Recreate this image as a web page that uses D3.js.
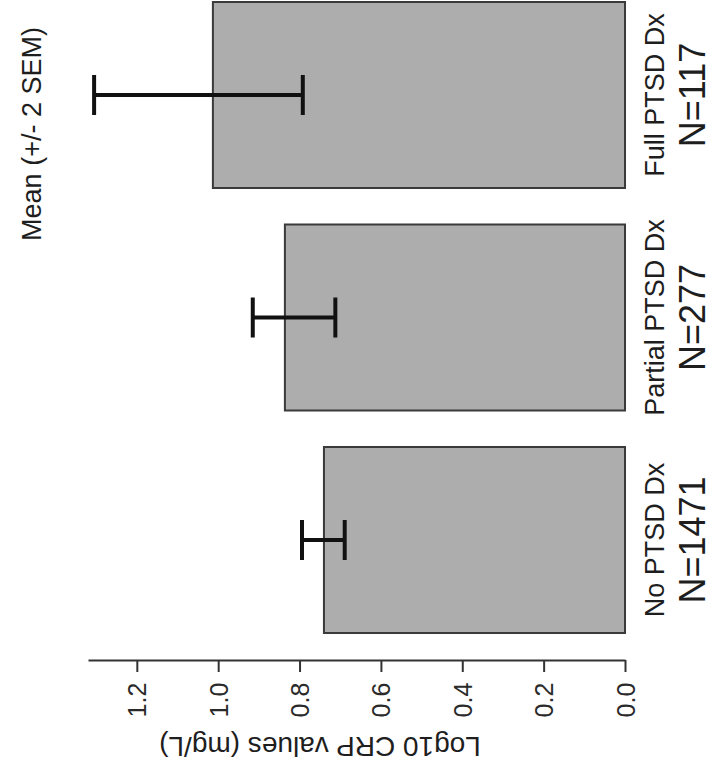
<!DOCTYPE html>
<html><head><meta charset="utf-8">
<script src="https://cdn.jsdelivr.net/npm/d3@7/dist/d3.min.js"></script>
<style>
html,body{margin:0;padding:0;background:#fff;}
text{font-family:"Liberation Sans",Arial,sans-serif;fill:#1e1e1e;}
</style></head>
<body>
<svg id="chart" width="713" height="774"></svg>
<script>
// ---- data ----
const categories = ["No PTSD Dx", "Partial PTSD Dx", "Full PTSD Dx"];
const nLabels = ["N=1471", "N=277", "N=117"];
const means = [0.740, 0.836, 1.013];
const lowerErr = [0.689, 0.712, 0.792];
const upperErr = [0.794, 0.915, 1.305];
const tickValues = [0, 0.2, 0.4, 0.6, 0.8, 1.0, 1.2];
const tickLabels = ["0.0", "0.2", "0.4", "0.6", "0.8", "1.0", "1.2"];
const axisTitle = "Log10 CRP values (mg/L)";
const chartTitle = "Mean (+/- 2 SEM)";

const svg = d3.select("#chart");

// value scale runs right-to-left (whole chart is rotated)
const x = d3.scaleLinear().domain([0, 1.32]).range([625, 88]);
const y = d3.scaleBand().domain(categories.slice().reverse()).range([2, 633])
  .paddingInner(0.164).paddingOuter(0);

const data = categories.map((c, i) => ({c, n: nLabels[i], m: means[i], lo: lowerErr[i], hi: upperErr[i]}));

// bars
svg.append("g").selectAll("rect").data(data).join("rect")
  .attr("x", d => x(d.m))
  .attr("y", d => y(d.c))
  .attr("width", d => x(0) - x(d.m))
  .attr("height", y.bandwidth())
  .attr("fill", "#adadad")
  .attr("stroke", "#3a3a3a")
  .attr("stroke-width", 2);

// error bars
const eg = svg.append("g").attr("stroke", "#111").attr("stroke-width", 4);
const capHalf = 20;
data.forEach(d => {
  const cy = y(d.c) + y.bandwidth() / 2;
  eg.append("line").attr("x1", x(d.lo)).attr("x2", x(d.hi)).attr("y1", cy).attr("y2", cy);
  eg.append("line").attr("x1", x(d.lo)).attr("x2", x(d.lo)).attr("y1", cy - capHalf).attr("y2", cy + capHalf);
  eg.append("line").attr("x1", x(d.hi)).attr("x2", x(d.hi)).attr("y1", cy - capHalf).attr("y2", cy + capHalf);
});

// value axis
const axis = d3.axisBottom(x).tickValues(tickValues).tickSize(12).tickSizeOuter(0)
  .tickFormat((v, i) => tickLabels[i]);
const ag = svg.append("g").attr("transform", "translate(0,660)").call(axis);
ag.select(".domain").attr("stroke", "#333").attr("stroke-width", 2);
ag.selectAll(".tick line").attr("stroke", "#333").attr("stroke-width", 2);
ag.selectAll(".tick text")
  .attr("y", 0).attr("dy", null)
  .attr("text-anchor", "middle")
  .attr("dominant-baseline", "central")
  .attr("transform", "translate(0,40) rotate(-90)")
  .style("font-size", "25px")
  .style("fill", "#2a2a2a");

// axis title (upside down)
svg.append("text")
  .attr("transform", "translate(320,746) rotate(180)")
  .attr("text-anchor", "middle").attr("dominant-baseline", "central")
  .style("font-size", "28px")
  .text(axisTitle);

// category labels
svg.append("g").selectAll("text").data(data).join("text")
  .attr("transform", d => `translate(655,${y(d.c) + y.bandwidth() / 2}) rotate(-90)`)
  .attr("text-anchor", "middle").attr("dominant-baseline", "central")
  .style("font-size", "27px")
  .text(d => d.c);

svg.append("g").selectAll("text").data(data).join("text")
  .attr("transform", d => `translate(692,${y(d.c) + y.bandwidth() / 2}) rotate(-90)`)
  .attr("text-anchor", "middle").attr("dominant-baseline", "central")
  .style("font-size", "36px")
  .text(d => d.n);

// title
svg.append("text")
  .attr("transform", "translate(32,134) rotate(-90)")
  .attr("text-anchor", "middle").attr("dominant-baseline", "central")
  .style("font-size", "27px")
  .text(chartTitle);
</script>
</body></html>
